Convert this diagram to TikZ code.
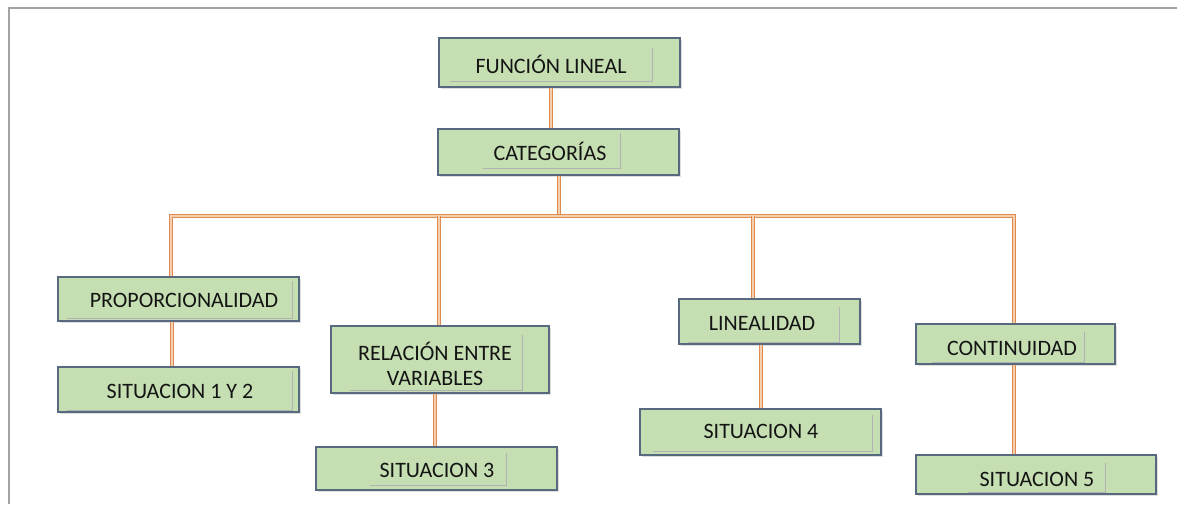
\documentclass[tikz,border=0pt]{standalone}
\usepackage{fontspec}
\setmainfont{Carlito}
\usetikzlibrary{fit,shadows}
\definecolor{boxfill}{HTML}{C5DFB3}
\definecolor{boxline}{HTML}{56697E}
\definecolor{connout}{HTML}{DF8A52}
\definecolor{connin}{HTML}{F6CFAE}
\definecolor{framecol}{HTML}{A3A3A3}
\tikzset{
 outerbox/.style={draw=boxline, line width=1pt, fill=boxfill, inner sep=0pt,
   drop shadow={opacity=0.25, shadow xshift=1.2pt, shadow yshift=-1.2pt}},
 innerbox/.style={inner sep=0pt, fill=boxfill, draw=none},
 txt/.style={font=\fontsize{16.5}{19}\selectfont, text=black!92, align=center, inner sep=0pt},
 conn/.style={draw=connout, line width=0.7pt, double=connin, double distance=1.3pt},
 shadeline/.style={draw=black!30, line width=0.8pt},
 frameline/.style={draw=framecol, line width=1.6pt}
}
\begin{document}
\begin{tikzpicture}[x=0.75pt,y=-0.75pt]
\useasboundingbox (0,0) rectangle (1177,504);
% frame
\coordinate (fa) at (9,504);
\coordinate (fb) at (9,8);
\coordinate (fc) at (1177,8);
\draw[frameline] (fa) -- (fb) -- (fc);

% outer boxes
\node[outerbox, fit={(439,38) (680,87)}] (o1) {};
\node[outerbox, fit={(438,129) (679,175)}] (o2) {};
\node[outerbox, fit={(58,277) (299,321)}] (o3) {};
\node[outerbox, fit={(58,367) (299,412)}] (o4) {};
\node[outerbox, fit={(331,326) (549,393)}] (o5) {};
\node[outerbox, fit={(316,447) (557,490)}] (o6) {};
\node[outerbox, fit={(679,299) (860,344)}] (o7) {};
\node[outerbox, fit={(640,409) (881,455)}] (o8) {};
\node[outerbox, fit={(916,324) (1115,364)}] (o9) {};
\node[outerbox, fit={(916,455) (1156,494)}] (o10) {};

% connectors
\coordinate (j) at (559,216);
\coordinate (b1) at (171,216);
\coordinate (b2) at (439,216);
\coordinate (b3) at (753,216);
\coordinate (b4) at (1014,216);
\coordinate (c1) at (551,0);
\coordinate (c3) at (172,0);
\coordinate (c5) at (435,0);
\coordinate (c7) at (761,0);
\coordinate (c9) at (1014,0);
\draw[conn] (o1.south -| c1) -- (o2.north -| c1);
\draw[conn] (o2.south -| j) -- (j);
\draw[conn] (o3.north -| b1) -- (b1) -- (b4) -- (o9.north -| b4);
\draw[conn] (b2) -- (o5.north -| b2);
\draw[conn] (b3) -- (o7.north -| b3);
\draw[conn] (o3.south -| c3) -- (o4.north -| c3);
\draw[conn] (o5.south -| c5) -- (o6.north -| c5);
\draw[conn] (o7.south -| c7) -- (o8.north -| c7);
\draw[conn] (o9.south -| c9) -- (o10.north -| c9);

% inner boxes
\node[innerbox, fit={(450,48) (652,81)}] (i1) {};
\node[innerbox, fit={(483,133) (620,168)}] (i2) {};
\node[innerbox, fit={(67,281) (292,318)}] (i3) {};
\node[innerbox, fit={(67,371) (292,410)}] (i4) {};
\node[innerbox, fit={(350,335) (522,390)}] (i5) {};
\node[innerbox, fit={(370,453) (506,485)}] (i6) {};
\node[innerbox, fit={(688,307) (839,342)}] (i7) {};
\node[innerbox, fit={(653,415) (872,451)}] (i8) {};
\node[innerbox, fit={(932,332) (1084,362)}] (i9) {};
\node[innerbox, fit={(968,463) (1105,492)}] (i10) {};
\foreach \n in {i1,i2,i3,i4,i5,i6,i7,i8,i9,i10}{
  \draw[shadeline] (\n.north east) -- (\n.south east) -- (\n.south west);
}

% texts
\node[txt] (t1) at (551,64) {FUNCIÓN LINEAL};
\node[txt] (t2) at (550,151) {CATEGORÍAS};
\node[txt] (t3) at (184,300) {PROPORCIONALIDAD};
\node[txt] (t4) at (180,391) {SITUACION 1 Y 2};
\node[txt] (t5) at (435,364) {RELACIÓN ENTRE\\VARIABLES};
\node[txt] (t6) at (437,470) {SITUACION 3};
\node[txt] (t7) at (762,323) {LINEALIDAD};
\node[txt] (t8) at (761,431) {SITUACION 4};
\node[txt] (t9) at (1012,348) {CONTINUIDAD};
\node[txt] (t10) at (1037,479) {SITUACION 5};
\end{tikzpicture}
\end{document}
